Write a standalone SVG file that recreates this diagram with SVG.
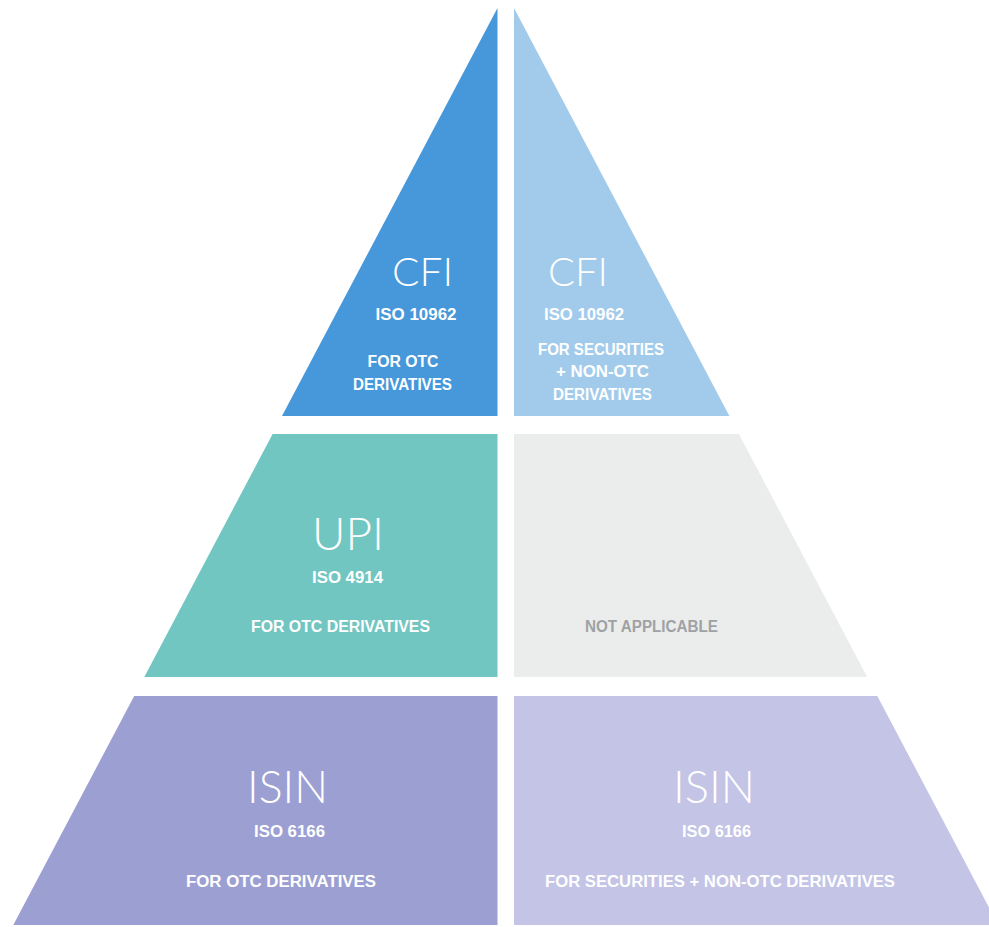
<svg xmlns="http://www.w3.org/2000/svg" width="989" height="927" viewBox="0 0 989 927">
  <style>
    .title { font-family: Lato, "Open Sans", "Liberation Sans", sans-serif; font-weight: 300; fill: #ffffff; text-anchor: middle; }
    .label { font-family: "Liberation Sans", Arial, sans-serif; font-weight: bold; fill: #ffffff; text-anchor: middle; font-size: 16px; }
    .muted { fill: #9fa2a5; }
  </style>
  <rect width="989" height="927" fill="#ffffff"/>

  <!-- Top tier: CFI -->
  <g id="cfi-otc">
    <polygon points="497.5,8 497.5,416 282,416" fill="#4698da"/>
    <text class="title" x="422.5" y="286" font-size="40" textLength="61" lengthAdjust="spacingAndGlyphs">CFI</text>
    <text class="label" x="416" y="320" textLength="81" lengthAdjust="spacingAndGlyphs">ISO 10962</text>
    <text class="label" x="403" y="367" textLength="71" lengthAdjust="spacingAndGlyphs">FOR OTC</text>
    <text class="label" x="402.5" y="390" textLength="99" lengthAdjust="spacingAndGlyphs">DERIVATIVES</text>
  </g>
  <g id="cfi-securities">
    <polygon points="514,8 729.4,416 514,416" fill="#a2cbeb"/>
    <text class="title" x="578" y="286" font-size="40" textLength="60" lengthAdjust="spacingAndGlyphs">CFI</text>
    <text class="label" x="584" y="320" textLength="80" lengthAdjust="spacingAndGlyphs">ISO 10962</text>
    <text class="label" x="601" y="355" textLength="126" lengthAdjust="spacingAndGlyphs">FOR SECURITIES</text>
    <text class="label" x="602.5" y="377" textLength="93" lengthAdjust="spacingAndGlyphs">+ NON-OTC</text>
    <text class="label" x="602.5" y="400" textLength="99" lengthAdjust="spacingAndGlyphs">DERIVATIVES</text>
  </g>

  <!-- Middle tier: UPI -->
  <g id="upi-otc">
    <polygon points="272.6,434 497.5,434 497.5,677 144.3,677" fill="#71c6c1"/>
    <text class="title" x="348" y="550" font-size="45" textLength="72" lengthAdjust="spacingAndGlyphs">UPI</text>
    <text class="label" x="347.5" y="583" textLength="71" lengthAdjust="spacingAndGlyphs">ISO 4914</text>
    <text class="label" x="340.5" y="632" textLength="179" lengthAdjust="spacingAndGlyphs">FOR OTC DERIVATIVES</text>
  </g>
  <g id="upi-not-applicable">
    <polygon points="514,434 738.9,434 867.2,677 514,677" fill="#ebeded"/>
    <text class="label muted" x="651.5" y="632" textLength="133" lengthAdjust="spacingAndGlyphs">NOT APPLICABLE</text>
  </g>

  <!-- Bottom tier: ISIN -->
  <g id="isin-otc">
    <polygon points="134.2,696 497.5,696 497.5,925 13.3,925" fill="#9c9fd2"/>
    <text class="title" x="287.5" y="803" font-size="46" textLength="81" lengthAdjust="spacingAndGlyphs">ISIN</text>
    <text class="label" x="289.5" y="837" textLength="71" lengthAdjust="spacingAndGlyphs">ISO 6166</text>
    <text class="label" x="281" y="887" textLength="190" lengthAdjust="spacingAndGlyphs">FOR OTC DERIVATIVES</text>
  </g>
  <g id="isin-securities">
    <polygon points="514,696 877.3,696 998.2,925 514,925" fill="#c3c4e6"/>
    <text class="title" x="714" y="803" font-size="46" textLength="82" lengthAdjust="spacingAndGlyphs">ISIN</text>
    <text class="label" x="716.5" y="837" textLength="69" lengthAdjust="spacingAndGlyphs">ISO 6166</text>
    <text class="label" x="720" y="887" textLength="350" lengthAdjust="spacingAndGlyphs">FOR SECURITIES + NON-OTC DERIVATIVES</text>
  </g>

  <!-- no connectors in this layout -->
  <g id="connectors"/>
</svg>
